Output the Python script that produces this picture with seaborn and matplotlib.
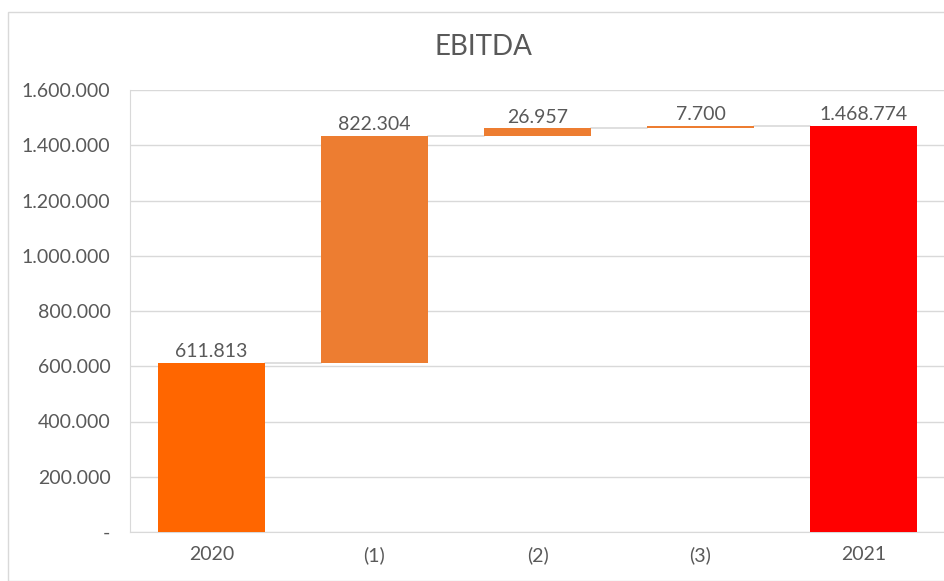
import numpy as np
import pandas as pd
import seaborn as sns
import matplotlib.pyplot as plt
from matplotlib.patches import Rectangle
from matplotlib.ticker import FuncFormatter

categories = ["2020", "(1)", "(2)", "(3)", "2021"]
changes = [611813, 822304, 26957, 7700, 1468774]
is_total = [True, False, False, False, True]
bar_colors = ["#FF6600", "#ED7D31", "#ED7D31", "#ED7D31", "#FF0000"]


def dotted(v):
    return f"{v:,.0f}".replace(",", ".")


# waterfall bases
bottoms = []
level = 0
for val, tot in zip(changes, is_total):
    if tot:
        bottoms.append(0)
        level = val
    else:
        bottoms.append(level)
        level += val
tops = [b + v for b, v in zip(bottoms, changes)]

df = pd.DataFrame({"cat": categories, "val": changes})

sns.set_style("white")
plt.rcParams["font.family"] = ["Lato", "DejaVu Sans"]
text_color = "#595959"

fig = plt.figure(figsize=(9.45, 5.81), dpi=100)
ax = fig.add_axes([130 / 945, 1 - 532 / 581, 1 - 130 / 945, (532 - 90) / 581])

w = 0.66
sns.barplot(data=df, x="cat", y="val", order=categories, width=w,
            color="#ED7D31", saturation=1, bottom=np.array(bottoms),
            errorbar=None, ax=ax, zorder=3, linewidth=0)
for p, c in zip(ax.patches, bar_colors):
    p.set_facecolor(c)
    p.set_edgecolor(c)

# connectors
for i in range(len(categories) - 1):
    ax.plot([i + w / 2, i + 1 - w / 2], [tops[i], tops[i]], color="#D9D9D9",
            lw=1.2, zorder=2)

for i, (t, v) in enumerate(zip(tops, changes)):
    ax.text(i, t + 10000, dotted(v), ha="center", va="bottom", fontsize=14,
            color=text_color)

ax.set_ylim(0, 1600000)
ax.set_xlim(-0.5, 4.5)
ax.set_yticks(np.arange(0, 1600001, 200000))
ax.yaxis.set_major_formatter(FuncFormatter(lambda v, _: "-" if v == 0 else dotted(v)))
ax.grid(axis="y", color="#D9D9D9", lw=1, zorder=0)
for s in ["top", "right"]:
    ax.spines[s].set_visible(False)
ax.spines["left"].set_color("#D9D9D9")
ax.spines["bottom"].set_color("#D9D9D9")
ax.tick_params(axis="both", length=0, labelsize=14, labelcolor=text_color, pad=14)
ax.tick_params(axis="x", pad=10)
ax.set_xlabel("")
ax.set_ylabel("")

fig.text(483 / 945, 1 - 47 / 581, "EBITDA", ha="center", va="center",
         fontsize=20, color=text_color)

fig.patches.append(Rectangle((8 / 945, 0), 1, 1 - 12 / 581, transform=fig.transFigure,
                             fill=False, edgecolor="#D9D9D9", lw=1, zorder=0))

fig.savefig("out.png", dpi=100)
